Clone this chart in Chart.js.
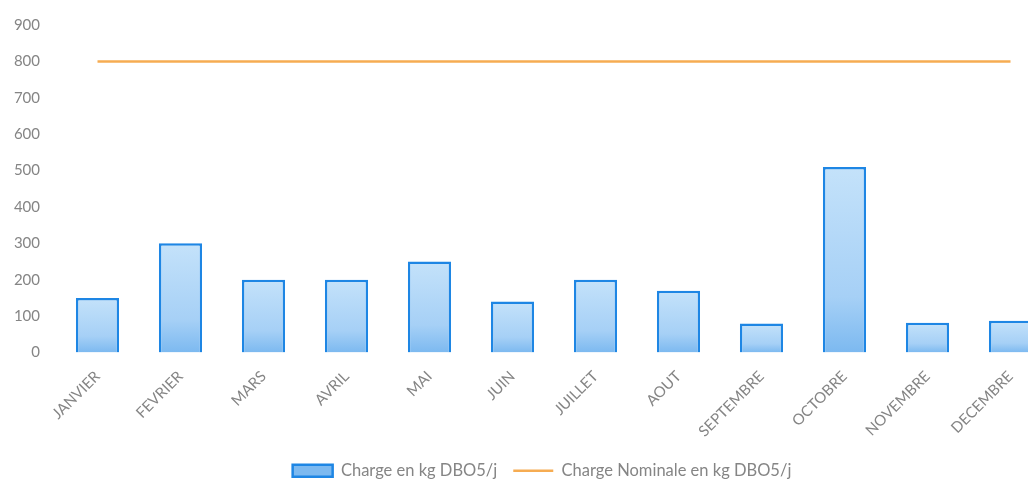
<!DOCTYPE html>
<html>
<head>
<meta charset="utf-8">
<script src="https://cdn.jsdelivr.net/npm/chart.js@4/dist/chart.umd.min.js"></script>
<style>
  html, body { margin: 0; padding: 0; background: #fff; overflow: hidden; }
  #wrap { width: 1084px; height: 484px; }
</style>
</head>
<body>
<div id="wrap"><canvas id="graphique" width="1084" height="484"></canvas></div>
<script>
    const mois = ['JANVIER', 'FEVRIER', 'MARS', 'AVRIL', 'MAI', 'JUIN', 'JUILLET', 'AOUT', 'SEPTEMBRE', 'OCTOBRE', 'NOVEMBRE', 'DECEMBRE'];
    const charge = [150, 300, 200, 200, 250, 140, 200, 170, 80, 510, 82, 87];
    const chargeNominale = [800, 800, 800, 800, 800, 800, 800, 800, 800, 800, 800, 800];
    const ticksY = [0, 100, 200, 300, 400, 500, 600, 700, 800, 900];

    const police = "Lato, 'Open Sans', sans-serif";
    const gris = '#858585';

    // degrade vertical sur chaque barre
    function fondBarre(context) {
        const chart = context.chart;
        if (!chart.chartArea || context.parsed == null) {
            return 'rgb(170,210,245)';
        }
        const y = chart.scales.y;
        const haut = y.getPixelForValue(context.parsed.y);
        const bas = y.getPixelForValue(0);
        const g = chart.ctx.createLinearGradient(0, haut, 0, bas);
        g.addColorStop(0, 'rgb(196,226,250)');
        g.addColorStop(0.7, 'rgb(166,208,246)');
        g.addColorStop(1, 'rgb(124,185,240)');
        return g;
    }

    const data = {
        labels: mois,
        datasets: [{
            label: 'Charge en kg DBO5/j',
            type: 'bar',
            data: charge,
            backgroundColor: fondBarre,
            borderColor: 'rgb(30,134,228)',
            borderWidth: 2.5,
            barPercentage: 0.52,
            categoryPercentage: 1,
            pointStyle: 'rect'
        },
        {
            label: 'Charge Nominale en kg DBO5/j',
            type: 'line',
            data: chargeNominale,
            borderColor: 'rgb(246,172,82)',
            backgroundColor: 'rgb(246,172,82)',
            borderWidth: 2.5,
            pointRadius: 0,
            pointStyle: 'line'
        }]
    };

    const config = {
        data: data,
        options: {
            responsive: false,
            animation: false,
            layout: {
                padding: { top: 23, left: 8, right: 8, bottom: -5 }
            },
            scales: {
                x: {
                    grid: { display: false, drawTicks: false },
                    border: { display: false },
                    ticks: {
                        minRotation: 45,
                        maxRotation: 45,
                        padding: 15,
                        color: gris,
                        font: { family: police, size: 15 }
                    },
                    afterFit: (s) => { s.height = 94; }
                },
                y: {
                    min: 0,
                    max: 900,
                    grid: { display: false, drawTicks: false },
                    border: { display: false },
                    afterBuildTicks: (s) => { s.ticks = ticksY.map(v => ({ value: v })); },
                    afterFit: (s) => { s.width = 48; },
                    ticks: {
                        padding: 16,
                        color: gris,
                        font: { family: police, size: 15 }
                    }
                },
                // axe vide a droite, sert juste a centrer la legende
                vide: {
                    position: 'right',
                    grid: { display: false, drawTicks: false },
                    border: { display: false },
                    ticks: { display: false },
                    afterFit: (s) => { s.width = 24; }
                }
            },
            plugins: {
                legend: {
                    position: 'bottom',
                    labels: {
                        usePointStyle: true,
                        pointStyleWidth: 40,
                        boxHeight: 12,
                        padding: 16,
                        color: gris,
                        font: { family: police, size: 16.5 }
                    }
                },
                tooltip: { enabled: false }
            }
        }
    };

    var ctx = document.getElementById('graphique');
    var graphique = new Chart(ctx, config);
</script>
</body>
</html>
